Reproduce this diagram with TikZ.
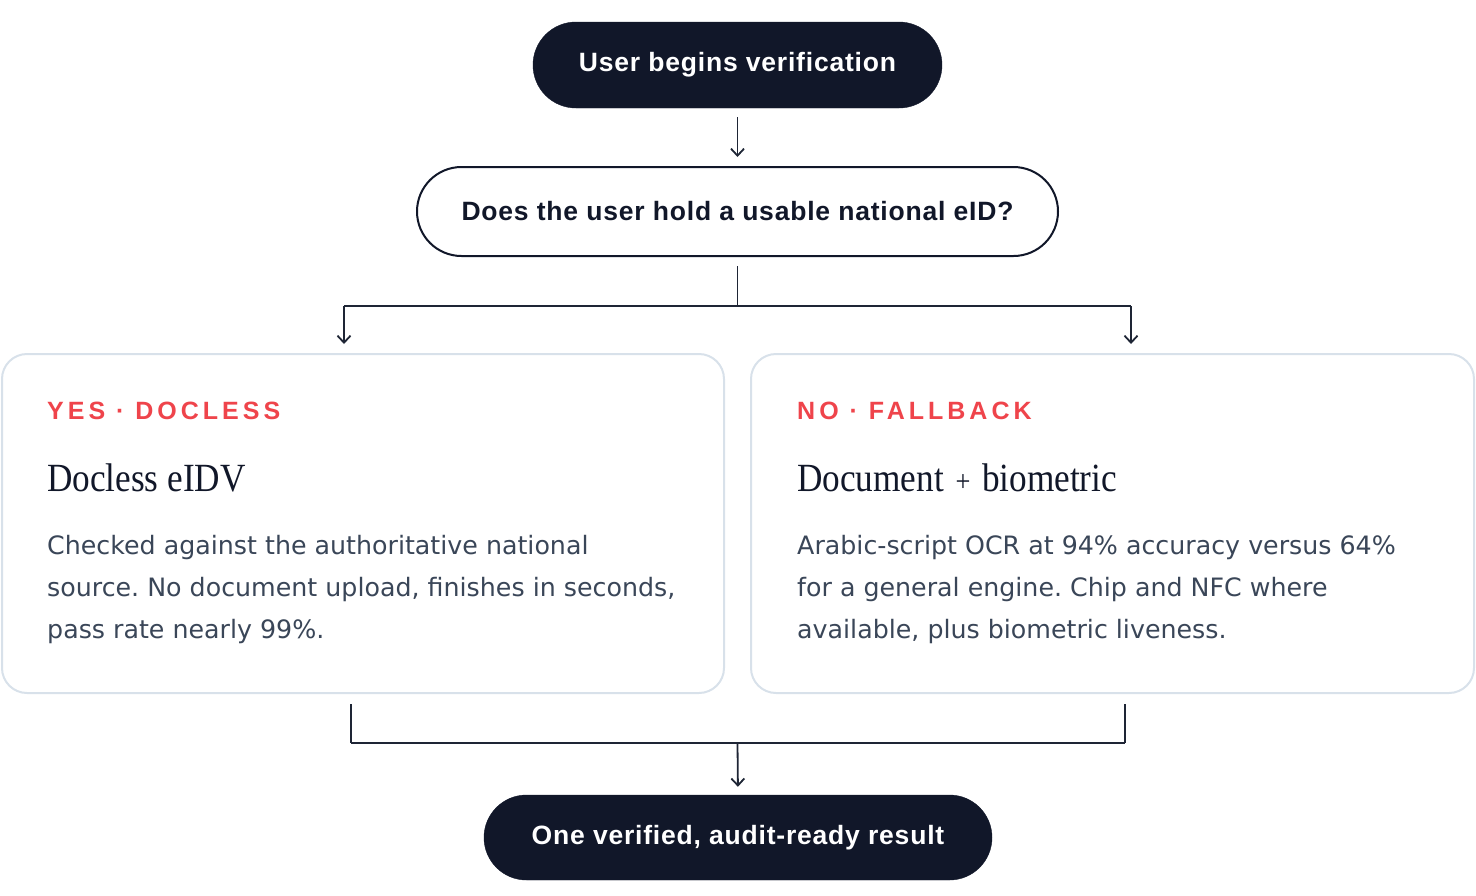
\documentclass[tikz,border=0pt]{standalone}
\usepackage{fontspec}
\setmainfont{Liberation Sans}
\newfontfamily\pillfont[LetterSpace=3]{Liberation Sans}
\newfontfamily\tagfont[LetterSpace=16]{Liberation Sans}
\newfontfamily\headfont[FakeStretch=0.88]{Liberation Serif}
\newfontfamily\bodyfont{DejaVu Sans}
\usetikzlibrary{arrows.meta,shapes.misc}
\definecolor{navy}{HTML}{111729}
\definecolor{accent}{HTML}{EF444B}
\definecolor{slate}{HTML}{3A4658}
\definecolor{cardline}{HTML}{D8E1EA}
\definecolor{wire}{HTML}{1E2535}
\frenchspacing
\tikzset{
  pill/.style={rounded rectangle, fill=navy, draw=navy, text=white, inner sep=0pt,
    font=\pillfont\bfseries\fontsize{26.5}{30}\selectfont},
  qpill/.style={rounded rectangle, fill=white, draw=navy, line width=2pt, text=navy, inner sep=0pt,
    font=\pillfont\bfseries\fontsize{26.5}{30}\selectfont},
  card/.style={rectangle, rounded corners=25pt, draw=cardline, line width=2pt, fill=white, inner sep=0pt},
  tagtext/.style={anchor=base west, inner sep=0pt, text=accent, font=\tagfont\bfseries\fontsize{25}{30}\selectfont},
  headtext/.style={anchor=base west, inner sep=0pt, text=navy, font=\headfont\fontsize{40}{46}\selectfont},
  bodytext/.style={anchor=base west, inner sep=0pt, text=slate, font=\bodyfont\fontsize{25.3}{42}\selectfont},
  wireline/.style={draw=wire, line width=1.8pt},
  arrowline/.style={wireline, -{Straight Barb[length=7pt,width=13pt,line width=1.8pt]}}
}
\begin{document}
\begin{tikzpicture}[x=1pt,y=-1pt]
\useasboundingbox (0,0) rectangle (1476,895);
% main nodes
\node[pill, minimum width=409, minimum height=86] (start) at (737.5,65) {User begins verification};
\node[qpill, minimum width=641, minimum height=89] (q) at (737.5,211.5) {Does the user hold a usable national eID?};
\node[card, minimum width=722, minimum height=339] (cardL) at (363,523.5) {};
\node[card, minimum width=723, minimum height=339] (cardR) at (1112.5,523.5) {};
\node[pill, minimum width=508, minimum height=85] (result) at (738,837.5) {One verified, audit-ready result};
% card texts
\node[tagtext] (tagL) at (47,419.5) {YES · DOCLESS};
\node[headtext] (headL) at (47,491.5) {Docless eIDV};
\node[bodytext] (bodyL1) at (47,554) {Checked against the authoritative national};
\node[bodytext] (bodyL2) at (47,596) {source. No document upload, finishes in seconds,};
\node[bodytext] (bodyL3) at (47,638) {pass rate nearly 99\%.};
\node[tagtext] (tagR) at (797,419.5) {NO · FALLBACK};
\node[headtext] (headR) at (797,491.5) {Document\,{\fontsize{30}{30}\selectfont\,+\,}\,biometric};
\node[bodytext] (bodyR1) at (797,554) {Arabic-script OCR at 94\% accuracy versus 64\%};
\node[bodytext] (bodyR2) at (797,596) {for a general engine. Chip and NFC where};
\node[bodytext] (bodyR3) at (797,638) {available, plus biometric liveness.};
% connector coordinates
\coordinate (fork) at (737.5,306);
\coordinate (forkL) at (344,306);
\coordinate (forkR) at (1131,306);
\coordinate (joinL) at (351,743);
\coordinate (joinR) at (1125,743);
\coordinate (join) at (737.5,743);
% connectors
\draw[arrowline, shorten <=9pt, shorten >=9pt] (start.south) -- (q.north);
\draw[wireline, shorten <=9pt] (q.south) -- (fork);
\draw[wireline] (forkL) -- (forkR);
\draw[arrowline, shorten >=9pt] (forkL) -- (forkL |- cardL.north);
\draw[arrowline, shorten >=9pt] (forkR) -- (forkR |- cardR.north);
\draw[wireline, shorten <=10pt] (joinL |- cardL.south) -- (joinL);
\draw[wireline, shorten <=10pt] (joinR |- cardR.south) -- (joinR);
\draw[wireline] (joinL) -- (joinR);
\draw[arrowline, shorten >=8pt] (join) -- (result.north);
\end{tikzpicture}
\end{document}
